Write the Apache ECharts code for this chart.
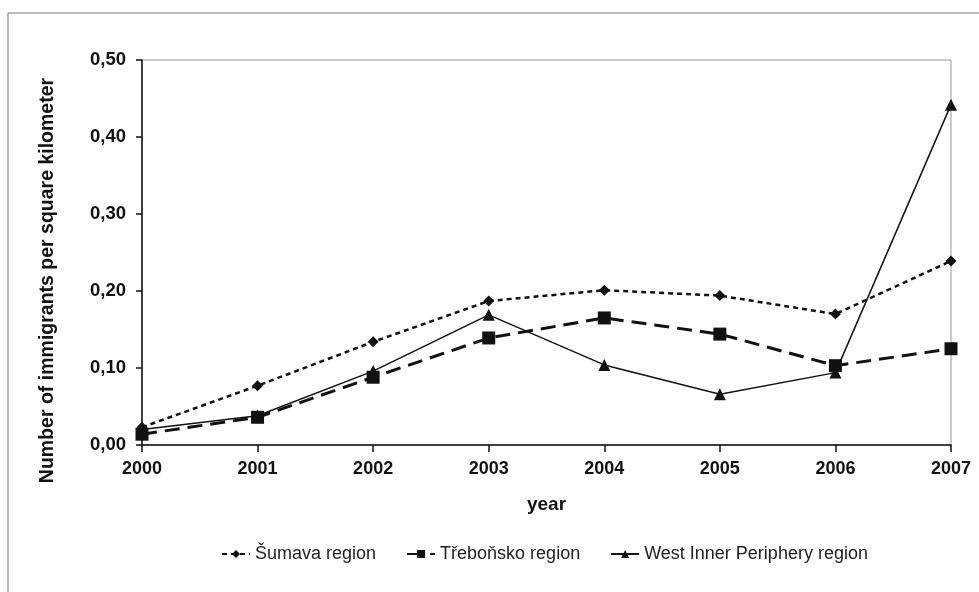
<!DOCTYPE html>
<html><head><meta charset="utf-8">
<script src="https://cdn.jsdelivr.net/npm/echarts@6/dist/echarts.min.js"></script>
<style>html,body{margin:0;padding:0;background:#fff}#c{width:979px;height:592px}</style>
</head><body><div id="c"></div>
<script>
const years = ['2000','2001','2002','2003','2004','2005','2006','2007'];
const sumava = [0.023,0.077,0.134,0.187,0.201,0.194,0.170,0.239];
const trebonsko = [0.014,0.036,0.088,0.139,0.165,0.144,0.103,0.125];
const westInner = [0.020,0.038,0.096,0.169,0.104,0.066,0.094,0.442];
const seriesNames = ['Šumava region','Třeboňsko region','West Inner Periphery region'];

const narrow = '"Liberation Sans Narrow","Arial Narrow","Liberation Sans",sans-serif';
const chart = echarts.init(document.getElementById('c'));
chart.setOption({
  animation:false,
  backgroundColor:'#fff',
  graphic:[{type:'rect',shape:{x:8,y:13,width:1000,height:620},style:{fill:'none',stroke:'#777',lineWidth:1},silent:true}],
  grid:{left:142,right:28,top:60,bottom:147,show:true,borderColor:'#999',borderWidth:1},
  legend:{
    top:540,left:216,itemWidth:28,itemHeight:10,itemGap:30,
    textStyle:{fontFamily:narrow,fontSize:18,color:'#222'},
    data:seriesNames
  },
  xAxis:{
    type:'category',data:years,boundaryGap:false,
    axisLine:{lineStyle:{color:'#111',width:1.5}},
    axisTick:{alignWithLabel:true,length:7,lineStyle:{color:'#111',width:1.5}},
    axisLabel:{fontFamily:narrow,fontWeight:'bold',fontSize:18,color:'#111',margin:15},
    name:'year',nameLocation:'middle',nameGap:50,
    nameTextStyle:{fontFamily:narrow,fontWeight:'bold',fontSize:19,color:'#111'},
    splitLine:{show:false}
  },
  yAxis:{
    type:'value',min:0,max:0.5,interval:0.1,
    axisLine:{show:true,lineStyle:{color:'#111',width:1.5}},
    axisTick:{show:true,length:6,lineStyle:{color:'#111',width:1.5}},
    axisLabel:{fontFamily:narrow,fontWeight:'bold',fontSize:18.5,color:'#111',margin:16,
      formatter:v=>v.toFixed(2).replace('.',',')},
    splitLine:{show:false},
    name:'Number of immigrants per square kilometer',nameLocation:'middle',nameGap:84,
    nameTextStyle:{fontFamily:'"Liberation Sans",Arial,sans-serif',fontWeight:'bold',fontSize:19.5,color:'#111',padding:[0,56,0,0]}
  },
  series:[
    {name:seriesNames[0],type:'line',data:sumava,symbol:'diamond',symbolSize:11,
     lineStyle:{color:'#111',width:2.5,type:[5,4]},itemStyle:{color:'#111'}},
    {name:seriesNames[1],type:'line',data:trebonsko,symbol:'rect',symbolSize:13,
     lineStyle:{color:'#111',width:3,type:[15,8]},itemStyle:{color:'#111'}},
    {name:seriesNames[2],type:'line',data:westInner,symbol:'triangle',symbolSize:12,
     lineStyle:{color:'#111',width:1.5,type:'solid'},itemStyle:{color:'#111'}}
  ]
});
</script></body></html>
